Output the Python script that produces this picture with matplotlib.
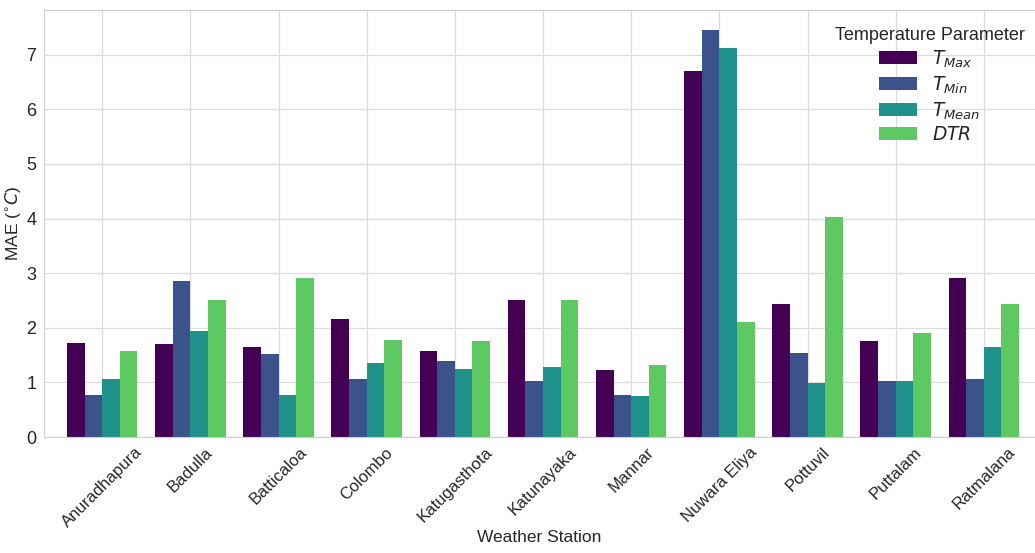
import matplotlib
matplotlib.use("Agg")
import matplotlib.pyplot as plt
import seaborn as sns
import numpy as np

# Data
stations = ["Anuradhapura", "Badulla", "Batticaloa", "Colombo", "Katugasthota",
            "Katunayaka", "Mannar", "Nuwara Eliya", "Pottuvil", "Puttalam", "Ratmalana"]
t_max = [1.72, 1.71, 1.64, 2.17, 1.58, 2.50, 1.22, 6.70, 2.44, 1.75, 2.92]
t_min = [0.77, 2.85, 1.52, 1.06, 1.39, 1.03, 0.77, 7.46, 1.54, 1.03, 1.06]
t_mean = [1.06, 1.95, 0.77, 1.36, 1.24, 1.28, 0.75, 7.12, 0.98, 1.03, 1.65]
dtr = [1.58, 2.50, 2.92, 1.78, 1.75, 2.51, 1.32, 2.11, 4.02, 1.90, 2.44]

labels = [r"$T_{Max}$", r"$T_{Min}$", r"$T_{Mean}$", r"$DTR$"]
colors = ["#440154", "#3b528b", "#21918c", "#5ec962"]

sns.set_style("whitegrid")
plt.rcParams["font.family"] = ["Liberation Sans", "DejaVu Sans"]
plt.rcParams["mathtext.fontset"] = "dejavusans"

fig = plt.figure(figsize=(10.35, 5.53), dpi=100)
ax = fig.add_axes([44 / 1035, 116 / 553, 991 / 1035, 427 / 553])

x = np.arange(len(stations))
width = 0.2
series = [t_max, t_min, t_mean, dtr]
for i, (vals, lab, col) in enumerate(zip(series, labels, colors)):
    ax.bar(x + (i - 1.5) * width, vals, width, label=lab, color=col, linewidth=0)

ax.set_xlim(-0.66, 10.58)
ax.set_ylim(0, 7.82)
ax.set_xticks(x)
ax.set_xticklabels(stations, rotation=45, fontsize=12, color="#262626")
ax.tick_params(axis="y", labelsize=13, labelcolor="#262626", pad=2)
ax.tick_params(axis="x", pad=2)
ax.set_xlabel("Weather Station", fontsize=12.5, color="#262626", labelpad=0)
ax.set_ylabel(r"MAE ($^{\circ}C$)", fontsize=12.5, color="#262626", labelpad=2)
ax.spines["right"].set_visible(False)
for s in ["left", "top", "bottom"]:
    ax.spines[s].set_color("#d0d0d0")
ax.grid(color="#dcdcdc", linewidth=0.9)
ax.set_axisbelow(True)

leg = ax.legend(title="Temperature Parameter", loc="upper right", frameon=False,
                bbox_to_anchor=(1.0, 0.985), fontsize=13.5, title_fontsize=13,
                borderaxespad=0.15, labelspacing=0.25)

fig.savefig("out.png", dpi=100)
